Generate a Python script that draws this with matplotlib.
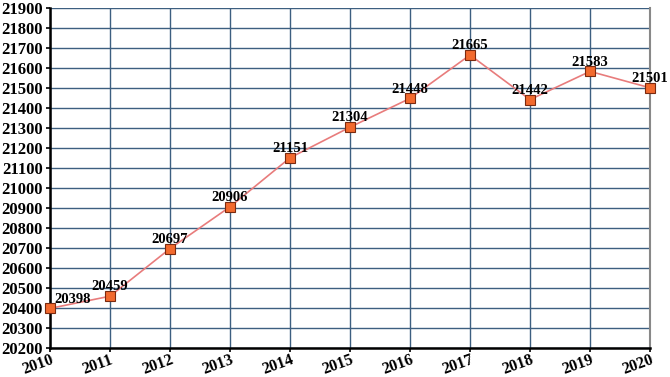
import matplotlib
matplotlib.use("Agg")
import matplotlib.pyplot as plt

years = [2010, 2011, 2012, 2013, 2014, 2015, 2016, 2017, 2018, 2019, 2020]
values = [20398, 20459, 20697, 20906, 21151, 21304, 21448, 21665, 21442, 21583, 21501]
yticks = list(range(20200, 22000, 100))

plt.rcParams['font.family'] = ['Liberation Serif', 'DejaVu Serif']
fig = plt.figure(figsize=(6.7, 3.77), dpi=100)
ax = fig.add_axes([50/670, 29/377, 600/670, 340/377])
ax.set_xlim(2010, 2020)
ax.set_ylim(20200, 21900)
ax.set_yticks(yticks)
ax.set_xticks(years)
ax.grid(True, color='#3d5f80', linewidth=1.0)
ax.set_axisbelow(True)
ax.plot(years, values, color='#e87c7c', linewidth=1.2, zorder=3)
ax.plot(years, values, linestyle='none', marker='s', markersize=6.5,
        markerfacecolor='#f26a2e', markeredgecolor='#7a2a10', markeredgewidth=0.8, zorder=4,
        clip_on=False)
for x, v in zip(years, values):
    first = (x == years[0])
    ax.annotate(str(v), (x, v), xytext=(3 if first else 0, 2), textcoords='offset points',
                ha='left' if first else 'center', va='bottom',
                fontsize=10.5, fontweight='bold', zorder=5)
ax.set_yticklabels([str(t) for t in yticks], fontsize=12, fontweight='bold')
ax.set_xticklabels([str(y) for y in years], fontsize=11.5, fontweight='bold', rotation=20,
                   ha='right', rotation_mode='anchor')
for s in ['left', 'bottom']:
    ax.spines[s].set_linewidth(1.8)
    ax.spines[s].set_color('black')
ax.spines['right'].set_color('#888888')
ax.spines['right'].set_linewidth(1.5)
ax.spines['top'].set_visible(False)
ax.tick_params(axis='both', length=3, width=1.2, pad=2)
ax.tick_params(axis='x', pad=0)
fig.savefig('out.png', dpi=100)
